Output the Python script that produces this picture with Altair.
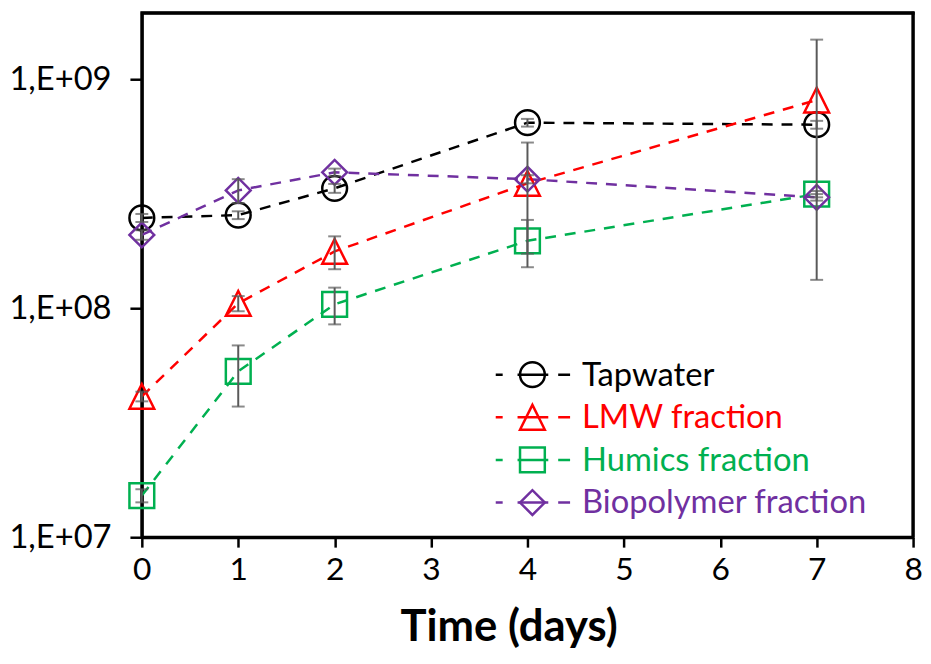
import altair as alt
import pandas as pd

days = [0, 1, 2, 4, 7]
series_names = ["Tapwater", "LMW fraction", "Humics fraction", "Biopolymer fraction"]
tapwater = [2.48e8, 2.55e8, 3.34e8, 6.46e8, 6.33e8]
tapwater_err = [1.0e7, 1.0e7, 1.5e7, 2.5e7, 2.5e7]
lmw = [4.12e7, 1.05e8, 1.77e8, 3.51e8, 8.11e8]
lmw_err = [2.0e6, 8.0e6, 2.9e7, 1.78e8, 6.78e8]
humics = [1.52e7, 5.30e7, 1.04e8, 1.97e8, 3.15e8]
humics_err = [1.0e6, 1.58e7, 1.9e7, 4.6e7, 1.0e7]
biopolymer = [2.09e8, 3.27e8, 3.92e8, 3.66e8, 3.05e8]
biopolymer_err = [1.0e7, 3.9e7, 1.5e7, 1.5e7, 1.0e7]
x_ticks = [0, 1, 2, 3, 4, 5, 6, 7, 8]
y_ticks = [1e7, 1e8, 1e9]

colors = ["#000000", "#FF0000", "#00B050", "#7030A0"]
shapes = ["circle", "M0,-1L1,1L-1,1Z", "square", "diamond"]
ERR_COLOR = "#595959"
FONT = "Lato"
W, H = 778, 529

rows = []
for name, vals, errs in zip(series_names,
                            [tapwater, lmw, humics, biopolymer],
                            [tapwater_err, lmw_err, humics_err, biopolymer_err]):
    for d, v, e in zip(days, vals, errs):
        rows.append({"series": name, "day": d, "value": v, "lo": v - e, "hi": v + e})
df = pd.DataFrame(rows)

xs = alt.Scale(domain=[0, 8], nice=False)
ys = alt.Scale(type="log", domain=[1e7, 1.95e9], nice=False)
cs = alt.Scale(domain=series_names, range=colors)
ss = alt.Scale(domain=series_names, range=shapes)

x_enc = alt.X("day:Q", scale=xs, title="Time (days)",
              axis=alt.Axis(values=x_ticks, format="d", grid=False, tickSize=10,
                            tickWidth=2.5, tickColor="black", domainColor="black",
                            domainWidth=3, labelFont=FONT, labelFontSize=32,
                            labelColor="black", labelPadding=8, labelFlush=False,
                            titleFont=FONT, titleFontSize=44, titleFontWeight="bold",
                            titleColor="black", titleX=370, titleY=104,
                            titleBaseline="alphabetic"))
y_enc = alt.Y("value:Q", scale=ys, title=None,
              axis=alt.Axis(values=y_ticks, grid=False, tickSize=12, tickWidth=2.5,
                            tickColor="black", domainColor="black", domainWidth=3,
                            labelFont=FONT, labelFontSize=33, labelColor="black",
                            labelPadding=19, labelFlush=False,
                            labelExpr="'1,E+' + (round(log(datum.value)/LN10) < 10 ? '0' : '') + round(log(datum.value)/LN10)"))

base = alt.Chart(df)

lines = base.mark_line(strokeDash=[11, 9], strokeWidth=2.5).encode(
    x=x_enc, y=y_enc,
    color=alt.Color("series:N", scale=cs, legend=None),
    detail="series:N",
    order=alt.Order("day:Q"),
)

points = base.mark_point(filled=False, strokeWidth=2.5, size=625, opacity=1).encode(
    x=alt.X("day:Q", scale=xs),
    y=alt.Y("value:Q", scale=ys),
    color=alt.Color("series:N", scale=cs, legend=None),
    shape=alt.Shape("series:N", scale=ss, legend=None),
)

err_rule = base.mark_rule(color=ERR_COLOR, strokeWidth=2).encode(
    x=alt.X("day:Q", scale=xs),
    y=alt.Y("lo:Q", scale=ys),
    y2="hi:Q",
)
cap_lo = base.mark_tick(color=ERR_COLOR, orient="horizontal", size=13, thickness=2).encode(
    x=alt.X("day:Q", scale=xs),
    y=alt.Y("lo:Q", scale=ys),
)
cap_hi = base.mark_tick(color=ERR_COLOR, orient="horizontal", size=13, thickness=2).encode(
    x=alt.X("day:Q", scale=xs),
    y=alt.Y("hi:Q", scale=ys),
)

# plot-area frame (top and right sides)
frame_df = pd.DataFrame({"k": [0]})
frame_top = alt.Chart(frame_df).mark_rule(color="black", strokeWidth=3, opacity=1).encode(
    x=alt.value(-1), x2=alt.value(W + 1.5), y=alt.value(0.5))
frame_right = alt.Chart(frame_df).mark_rule(color="black", strokeWidth=3, opacity=1).encode(
    x=alt.value(W), y=alt.value(-1), y2=alt.value(H))

# manual legend (pixel layout inside plot area)
leg_x_marker = 394
leg_x_line0, leg_x_line1 = 357, 432
leg_x_text = 444
leg_y0, leg_dy = 365, 43
legend_layers = []
for i, (name, col, shp) in enumerate(zip(series_names, colors, shapes)):
    ly = leg_y0 + i * leg_dy
    ldf = pd.DataFrame({"label": [name]})
    lc = alt.Chart(ldf)
    legend_layers.append(lc.mark_rule(strokeWidth=2.5, strokeDash=[7, 15, 31, 10, 12], color=col).encode(
        x=alt.value(leg_x_line0), x2=alt.value(leg_x_line1), y=alt.value(ly)))
    legend_layers.append(lc.mark_point(filled=False, strokeWidth=2.5, size=625, opacity=1,
                                       color=col, shape=shp).encode(
        x=alt.value(leg_x_marker), y=alt.value(ly)))
    legend_layers.append(lc.mark_text(align="left", baseline="middle", font=FONT,
                                      fontSize=33, color=col).encode(
        x=alt.value(leg_x_text), y=alt.value(ly + 1), text="label:N"))

chart = alt.layer(frame_top, frame_right, lines, points, err_rule, cap_lo, cap_hi,
                  *legend_layers).properties(
    width=W, height=H,
    autosize=alt.AutoSizeParams(type="none"),
    padding={"left": 135, "top": 2, "right": 10, "bottom": 120},
).configure(background="white").configure_view(stroke="black", strokeWidth=3)

chart.save("out.html", embed_options={"renderer": "svg", "actions": False})
